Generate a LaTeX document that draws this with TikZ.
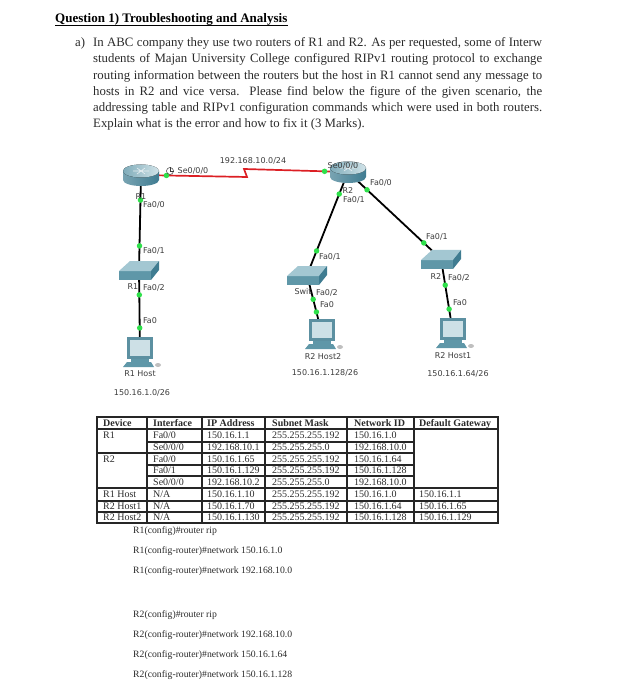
\documentclass[tikz,border=0pt]{standalone}
\usepackage{fontspec}
\setmainfont{Liberation Serif}
\newfontfamily\netfont{DejaVu Sans}
\usepackage{xcolor}
\usetikzlibrary{positioning, calc}
\definecolor{inktext}{HTML}{2A2A2A}
\definecolor{nettext}{HTML}{3C3C3C}
\definecolor{linkgreen}{HTML}{2EE04A}
\definecolor{serialred}{HTML}{DC1F24}
\definecolor{devfront}{HTML}{5F97A8}
\definecolor{devtop}{HTML}{A3C7D2}
\definecolor{devside}{HTML}{3F7C91}
\tikzset{
  titletext/.style={
    font=\fontsize{13}{15}\selectfont\bfseries, text=black,
    anchor=west, inner sep=0pt
  },
  bodyline/.style={
    font=\fontsize{12.8}{15}\selectfont, text=inktext,
    anchor=west, inner sep=0pt
  },
  cmdline/.style={
    font=\fontsize{9.7}{11}\selectfont, text=inktext,
    anchor=west, inner sep=0pt
  },
  tablecell/.style={
    font=\fontsize{10}{11}\selectfont, text=inktext,
    anchor=west, inner sep=0pt, text height=7pt, text depth=1pt
  },
  tablehead/.style={
    tablecell, font=\fontsize{10}{11}\selectfont\bfseries
  },
  tablerule/.style={line width=1.2pt, black!85},
  netlabel/.style={
    font=\netfont\fontsize{8}{9}\selectfont, text=nettext, inner sep=0pt
  },
  devicespot/.style={inner sep=0pt, minimum size=1pt},
  ethlink/.style={line width=1.8pt, black},
  seriallink/.style={line width=1.7pt, serialred},
  linkdot/.style={
    circle, fill=linkgreen, inner sep=0pt, minimum size=5.5pt
  },
  routericon/.pic={
    \path[left color=devside!70, middle color=devtop!60!white, right color=devside]
      (-18,-4) -- (-18,5) arc[start angle=180, end angle=0,
      x radius=18, y radius=6] -- (18,-4) -- cycle;
    \fill[left color=devfront!80!white, right color=devtop!50!white]
      (0,-4) ellipse[x radius=18, y radius=6.5];
    \draw[white!85!devfront, line width=0.6pt]
      (-8,-4) -- (8,-4) (-4,-7) -- (4,-1) (4,-7) -- (-4,-1);
  },
  switchicon/.pic={
    \fill[devfront] (-20,1) rectangle (12,10);
    \fill[devtop] (-20,1) -- (-9,-9) -- (20,-9) -- (12,1) -- cycle;
    \fill[devside] (12,1) -- (20,-9) -- (20,0) -- (12,10) -- cycle;
  },
  hosticon/.pic={
    \fill[devside!85!white] (-13,-15) rectangle (13,7);
    \fill[devtop!55!white] (-10,-12) rectangle (10,4);
    \fill[devfront] (-9,7) rectangle (9,10);
    \fill[devfront] (-13,10) -- (11,10) -- (14,15) -- (-17,15) -- cycle;
    \fill[black!25] (18,13) ellipse[x radius=3, y radius=2];
  },
}

\begin{document}
\begin{tikzpicture}[x=1pt, y=-1pt]
  \useasboundingbox (0,0) rectangle (622,700);

  % ── Question text ──────────────────────────────────────────────
  \node[titletext] (qtitle) at (55,19)
    {Question 1) Troubleshooting and Analysis};
  \draw[line width=0.8pt, black] (qtitle.south west) -- (qtitle.south east);
  \node[bodyline] (qpart) at (75,43) {a)};
  \foreach \liney/\linetext [count=\i] in {
    43/{In ABC company they use two routers of R1 and R2. As per requested, some of Interw},
    59/{students of Majan University College configured RIPv1 routing protocol to exchange},
    76/{routing information between the routers but the host in R1 cannot send any message to},
    92/{hosts in R2 and vice versa. Please find below the figure of the given scenario, the},
    108/{addressing table and RIPv1 configuration commands which were used in both routers.}}
    \node[bodyline] (qline\i) at (93,\liney)
      {\makebox[449pt][s]{\linetext}};
  \node[bodyline] (qline6) at (93,124)
    {Explain what is the error and how to fix it (3 Marks).};

  % ── Device positions ───────────────────────────────────────────
  \node[devicespot] (routerA) at (141,175) {};
  \node[devicespot] (routerB) at (348,172) {};
  \node[devicespot] (switchA) at (139,270) {};
  \node[devicespot] (switchB) at (307,275) {};
  \node[devicespot] (switchC) at (441,259) {};
  \node[devicespot] (hostA) at (140,352) {};
  \node[devicespot] (hostB) at (322,334) {};
  \node[devicespot] (hostC) at (453,333) {};
  \coordinate (zigA) at (247,177);
  \coordinate (zigB) at (244,169);

  % ── Links ──────────────────────────────────────────────────────
  \draw[seriallink] (routerA) -- (zigA) -- (zigB) -- (routerB);
  \draw[ethlink] (routerA) -- (switchA);
  \draw[ethlink] (switchA) -- (hostA);
  \draw[ethlink] (routerB) -- (switchB);
  \draw[ethlink] (switchB) -- (hostB);
  \draw[ethlink] (routerB) -- (switchC);
  \draw[ethlink] (switchC) -- (hostC);

  % ── Device icons ───────────────────────────────────────────────
  \pic at (routerA) {routericon};
  \pic at (routerB) {routericon};
  \pic at (switchA) {switchicon};
  \pic at (switchB) {switchicon};
  \pic at (switchC) {switchicon};
  \pic at (hostA) {hosticon};
  \pic at (hostB) {hosticon};
  \pic at (hostC) {hosticon};

  % ── Link lights ────────────────────────────────────────────────
  \path (routerA) -- node[linkdot, pos=0.235] (lightA) {} (zigA);
  \path (zigB) -- node[linkdot, pos=0.78] (lightB) {} (routerB);
  \path (routerA) -- node[linkdot, pos=0.26] (lightC) {}
    node[linkdot, pos=0.75] (lightD) {} (switchA);
  \path (switchA) -- node[linkdot, pos=0.30] (lightE) {}
    node[linkdot, pos=0.71] (lightF) {} (hostA);
  \path (routerB) -- node[linkdot, pos=0.21] (lightG) {}
    node[linkdot, pos=0.77] (lightH) {} (switchB);
  \path (switchB) -- node[linkdot, pos=0.41] (lightI) {}
    node[linkdot, pos=0.63] (lightJ) {} (hostB);
  \path (routerB) -- node[linkdot, pos=0.20] (lightK) {}
    node[linkdot, pos=0.82] (lightL) {} (switchC);
  \path (switchC) -- node[linkdot, pos=0.35] (lightM) {}
    node[linkdot, pos=0.68] (lightN) {} (hostC);

  % clock on the serial port
  \node[draw=nettext, circle, line width=0.5pt, inner sep=0pt,
        minimum size=7pt] (clockA) at (170,171) {};
  \draw[nettext, line width=0.5pt]
    (clockA.north) -- (clockA.center) -- (clockA.east);

  % ── Network labels ─────────────────────────────────────────────
  \foreach \labelx/\labely/\labeltext [count=\i] in {
    253/161/{192.168.10.0/24}, 193/171/{Se0/0/0}, 141/197/{R1},
    154/205/{Fa0/0}, 154/251/{Fa0/1}, 133/287/{R1}, 154/288/{Fa0/2},
    150/321/{Fa0}, 140/374/{R1 Host}, 142/393/{150.16.1.0/26},
    343/166/{Se0/0/0}, 381/183/{Fa0/0}, 348/191/{R2}, 354/200/{Fa0/1},
    437/237/{Fa0/1}, 330/257/{Fa0/1}, 303/292/{Swit}, 327/293/{Fa0/2},
    327/305/{Fa0}, 323/357/{R2 Host2}, 325/373/{150.16.1.128/26},
    436/277/{R2}, 459/278/{Fa0/2}, 460/303/{Fa0}, 453/356/{R2 Host1},
    458/374/{150.16.1.64/26}}
    \node[netlabel] (netlabel\i) at (\labelx,\labely) {\labeltext};

  % ── Addressing table ───────────────────────────────────────────
  \foreach \rulex in {97,147,202,265,347,414,498}
    \draw[tablerule] (\rulex,417) -- (\rulex,523);
  \foreach \ruley in {417,429,488,501,512,523}
    \draw[tablerule] (96.4,\ruley) -- (498.6,\ruley);
  \draw[tablerule] (97,453) -- (414,453);
  \foreach \ruley in {442,465,476}
    \draw[tablerule] (147,\ruley) -- (414,\ruley);

  \node[tablehead] (headA) at (103,423) {Device};
  \node[tablehead] (headB) at (153,423) {Interface};
  \node[tablehead] (headC) at (207,423) {IP Address};
  \node[tablehead] (headD) at (272,423) {Subnet Mask};
  \node[tablehead] (headE) at (354,423) {Network ID};
  \node[tablehead] (headF) at (419,423) {Default Gateway};

  \foreach \rowy/\devname/\portname/\ipaddr/\netmask/\netid/\gateway [count=\i] in {
    435.5/R1/{Fa0/0}/150.16.1.1/255.255.255.192/150.16.1.0/,
    447.5//{Se0/0/0}/192.168.10.1/255.255.255.0/192.168.10.0/,
    459/R2/{Fa0/0}/150.16.1.65/255.255.255.192/150.16.1.64/,
    470.5//{Fa0/1}/150.16.1.129/255.255.255.192/150.16.1.128/,
    482//{Se0/0/0}/192.168.10.2/255.255.255.0/192.168.10.0/,
    494.5/R1 Host/{N/A}/150.16.1.10/255.255.255.192/150.16.1.0/150.16.1.1,
    506.5/R2 Host1/{N/A}/150.16.1.70/255.255.255.192/150.16.1.64/150.16.1.65,
    517.5/R2 Host2/{N/A}/150.16.1.130/255.255.255.192/150.16.1.128/150.16.1.129}
  {
    \node[tablecell] (dev\i) at (103,\rowy) {\devname};
    \node[tablecell] (port\i) at (153,\rowy) {\portname};
    \node[tablecell] (ip\i) at (207,\rowy) {\ipaddr};
    \node[tablecell] (mask\i) at (272,\rowy) {\netmask};
    \node[tablecell] (netid\i) at (354,\rowy) {\netid};
    \node[tablecell] (gw\i) at (419,\rowy) {\gateway};
  }

  % ── RIP commands ───────────────────────────────────────────────
  \foreach \liney/\linetext [count=\i] in {
    531/{R1(config)\#router rip},
    551/{R1(config-router)\#network 150.16.1.0},
    571/{R1(config-router)\#network 192.168.10.0},
    615/{R2(config)\#router rip},
    635/{R2(config-router)\#network 192.168.10.0},
    655/{R2(config-router)\#network 150.16.1.64},
    675/{R2(config-router)\#network 150.16.1.128}}
    \node[cmdline] (cmd\i) at (133,\liney) {\linetext};
\end{tikzpicture}
\end{document}
